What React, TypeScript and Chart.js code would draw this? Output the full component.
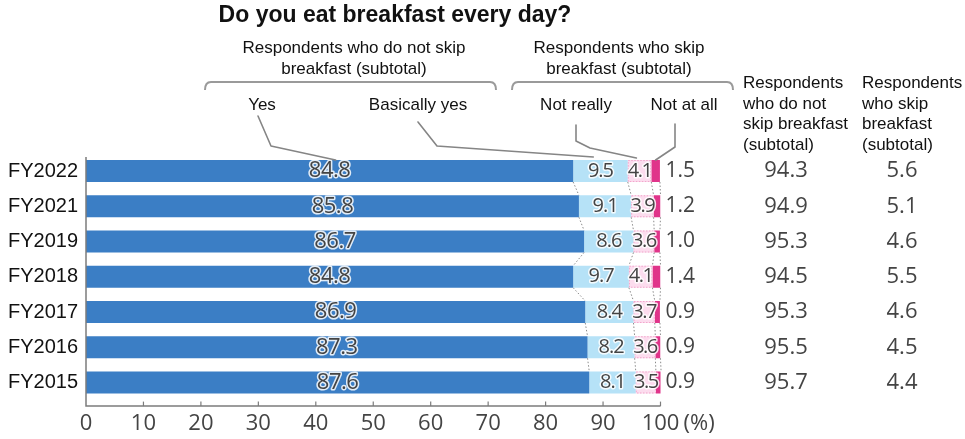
import React, { useEffect, useRef } from 'react';
import { Chart, registerables } from 'chart.js';

Chart.register(...registerables);

// ---- data ----
const years = ['FY2022', 'FY2021', 'FY2019', 'FY2018', 'FY2017', 'FY2016', 'FY2015'];
const yes = [84.8, 85.8, 86.7, 84.8, 86.9, 87.3, 87.6];
const basicallyYes = [9.5, 9.1, 8.6, 9.7, 8.4, 8.2, 8.1];
const notReally = [4.1, 3.9, 3.6, 4.1, 3.7, 3.6, 3.5];
const notAtAll = [1.5, 1.2, 1.0, 1.4, 0.9, 0.9, 0.9];
const notSkipSubtotal = [94.3, 94.9, 95.3, 94.5, 95.3, 95.5, 95.7];
const skipSubtotal = [5.6, 5.1, 4.6, 5.5, 4.6, 4.5, 4.4];
const seriesNames = ['Yes', 'Basically yes', 'Not really', 'Not at all'];

const W = 965;
const H = 439;
const NUM_FONT = '"Open Sans", "Noto Sans", sans-serif';
const TXT_FONT = 'Arial, "Liberation Sans", sans-serif';
const NUM_COLOR = '#444444';

function haloText(ctx: CanvasRenderingContext2D, text: string, x: number, y: number, font: string,
  align: CanvasTextAlign, spacing: string, halo: boolean) {
  ctx.save();
  ctx.font = font;
  ctx.textAlign = align;
  ctx.textBaseline = 'middle';
  (ctx as any).letterSpacing = spacing;
  if (halo) {
    ctx.lineJoin = 'round';
    ctx.strokeStyle = 'rgba(255,255,255,0.85)';
    ctx.lineWidth = 3;
    ctx.strokeText(text, x, y);
  }
  ctx.fillStyle = NUM_COLOR;
  ctx.fillText(text, x, y);
  ctx.restore();
}

function plainText(ctx: CanvasRenderingContext2D, text: string, x: number, y: number, font: string,
  align: CanvasTextAlign, color = '#111') {
  ctx.save();
  ctx.font = font;
  ctx.textAlign = align;
  ctx.textBaseline = 'alphabetic';
  ctx.fillStyle = color;
  ctx.fillText(text, x, y);
  ctx.restore();
}

function polyline(ctx: CanvasRenderingContext2D, pts: number[][], color: string, width: number) {
  ctx.save();
  ctx.strokeStyle = color;
  ctx.lineWidth = width;
  ctx.lineJoin = 'round';
  ctx.lineCap = 'round';
  ctx.beginPath();
  pts.forEach((p, i) => (i === 0 ? ctx.moveTo(p[0], p[1]) : ctx.lineTo(p[0], p[1])));
  ctx.stroke();
  ctx.restore();
}

function bracket(ctx: CanvasRenderingContext2D, x1: number, x2: number, y: number) {
  ctx.save();
  ctx.strokeStyle = '#9a9a9a';
  ctx.lineWidth = 2;
  ctx.beginPath();
  ctx.moveTo(x1, y + 8);
  ctx.quadraticCurveTo(x1, y, x1 + 6, y);
  ctx.lineTo(x2 - 6, y);
  ctx.quadraticCurveTo(x2, y, x2, y + 8);
  ctx.stroke();
  ctx.restore();
}

const overlay = {
  id: 'overlay',
  afterDatasetsDraw(chart: any) {
    // dotted pink outline on the "Not really" segments
    const ctx: CanvasRenderingContext2D = chart.ctx;
    const meta = chart.getDatasetMeta(2);
    ctx.save();
    ctx.strokeStyle = '#f2a6cc';
    ctx.lineWidth = 1;
    ctx.setLineDash([1.5, 1.5]);
    meta.data.forEach((el: any) => {
      const left = Math.min(el.x, el.base);
      const w = Math.abs(el.x - el.base);
      ctx.strokeRect(left + 0.5, el.y - el.height / 2 + 0.5, w - 1, el.height - 1);
    });
    ctx.restore();
  },
  afterDraw(chart: any) {
    const ctx: CanvasRenderingContext2D = chart.ctx;
    const xs = chart.scales.x;
    const ys = chart.scales.y;
    const px = (v: number) => xs.getPixelForValue(v);
    const cy = (i: number) => ys.getPixelForValue(i);
    const meta0 = chart.getDatasetMeta(0);
    const half = (meta0.data[0] as any).height / 2;
    const cum1 = yes.map((v) => v);
    const cum2 = yes.map((v, i) => v + basicallyYes[i]);
    const cum3 = yes.map((v, i) => v + basicallyYes[i] + notReally[i]);
    const cum4 = yes.map((v, i) => v + basicallyYes[i] + notReally[i] + notAtAll[i]);

    // dotted series connectors
    ctx.save();
    ctx.strokeStyle = '#8a8a8a';
    ctx.lineWidth = 1;
    ctx.setLineDash([1.5, 2]);
    for (let i = 0; i < years.length - 1; i++) {
      [cum1, cum2, cum3, cum4].forEach((c) => {
        ctx.beginPath();
        ctx.moveTo(px(c[i]), cy(i) + half);
        ctx.lineTo(px(c[i + 1]), cy(i + 1) - half);
        ctx.stroke();
      });
    }
    ctx.restore();

    // value labels
    years.forEach((_, i) => {
      const y = cy(i);
      haloText(ctx, yes[i].toFixed(1), px(yes[i] / 2), y, `22px ${NUM_FONT}`, 'center', '-0.5px', true);
      haloText(ctx, basicallyYes[i].toFixed(1), px(cum1[i] + basicallyYes[i] / 2), y, `20px ${NUM_FONT}`, 'center', '-1px', true);
      haloText(ctx, notReally[i].toFixed(1), px(cum2[i] + notReally[i] / 2), y, `20px ${NUM_FONT}`, 'center', '-1.5px', true);
      haloText(ctx, notAtAll[i].toFixed(1), px(100) + 5, y, `21px ${NUM_FONT}`, 'left', '0px', false);
      haloText(ctx, notSkipSubtotal[i].toFixed(1), 786, y, `22px ${NUM_FONT}`, 'center', '0px', false);
      haloText(ctx, skipSubtotal[i].toFixed(1), 902, y, `22px ${NUM_FONT}`, 'center', '0px', false);
    });

    // axes
    const axisY = xs.top + 6;
    ctx.save();
    ctx.strokeStyle = '#7c7c7c';
    ctx.lineWidth = 1.5;
    ctx.beginPath();
    ctx.moveTo(px(0), cy(0) - half - 3);
    ctx.lineTo(px(0), axisY);
    ctx.lineTo(px(100), axisY);
    ctx.stroke();
    ctx.lineWidth = 1.2;
    xs.ticks.forEach((t: any) => {
      if (t.value === 0) return;
      ctx.beginPath();
      ctx.moveTo(px(t.value), axisY);
      ctx.lineTo(px(t.value), axisY - 4.5);
      ctx.stroke();
    });
    ctx.restore();
    ctx.save();
    ctx.font = `22px ${NUM_FONT}`;
    ctx.fillStyle = NUM_COLOR;
    ctx.textAlign = 'left';
    ctx.textBaseline = 'middle';
    ctx.fillText('(%)', px(100) + 23, xs.top + 10 + 13.2);
    ctx.restore();

    // title
    plainText(ctx, 'Do you eat breakfast every day?', 395, 22, `bold 23px ${TXT_FONT}`, 'center');

    // group headers
    const hf = `17px ${TXT_FONT}`;
    plainText(ctx, 'Respondents who do not skip', 354, 53, hf, 'center');
    plainText(ctx, 'breakfast (subtotal)', 354, 73.5, hf, 'center');
    plainText(ctx, 'Respondents who skip', 619, 53, hf, 'center');
    plainText(ctx, 'breakfast (subtotal)', 619, 73.5, hf, 'center');
    bracket(ctx, 205, 496, 82);
    bracket(ctx, 512, 733, 82);

    // series names
    plainText(ctx, seriesNames[0], 262, 110, hf, 'center');
    plainText(ctx, seriesNames[1], 418, 110, hf, 'center');
    plainText(ctx, seriesNames[2], 576, 110, hf, 'center');
    plainText(ctx, seriesNames[3], 684, 110, hf, 'center');

    // leader lines
    const top0 = cy(0) - half;
    const lc = '#858585';
    polyline(ctx, [[258, 116], [271, 146], [px(yes[0] / 2) + 6, top0]], lc, 1.6);
    polyline(ctx, [[418, 122], [437, 146], [px(cum1[0] + 3.5), top0 - 3]], lc, 1.6);
    polyline(ctx, [[576, 125], [576, 141], [590, 148], [px(cum2[0] + 1.5), top0 - 2]], lc, 1.6);
    polyline(ctx, [[675, 124], [675, 147], [px(cum3[0] + notAtAll[0] / 2), top0]], lc, 1.6);

    // right column headers
    const colLines1 = ['Respondents', 'who do not', 'skip breakfast', '(subtotal)'];
    const colLines2 = ['Respondents', 'who skip', 'breakfast', '(subtotal)'];
    const bl = [88, 108.5, 129, 149.5];
    colLines1.forEach((t, k) => plainText(ctx, t, 743, bl[k], hf, 'left'));
    colLines2.forEach((t, k) => plainText(ctx, t, 862, bl[k], hf, 'left'));
  },
};

export default function App() {
  const ref = useRef<HTMLCanvasElement>(null);
  useEffect(() => {
    const canvas = ref.current;
    if (!canvas) return;
    const chart = new Chart(canvas, {
      type: 'bar',
      data: {
        labels: years,
        datasets: [
          { label: seriesNames[0], data: yes, backgroundColor: '#3b7ec5' },
          { label: seriesNames[1], data: basicallyYes, backgroundColor: '#b6e2f7' },
          { label: seriesNames[2], data: notReally, backgroundColor: '#fcdcee' },
          { label: seriesNames[3], data: notAtAll, backgroundColor: '#e0348a' },
        ],
      },
      options: {
        indexAxis: 'y',
        responsive: false,
        animation: false,
        devicePixelRatio: 1,
        datasets: { bar: { barPercentage: 0.624, categoryPercentage: 1 } },
        layout: { padding: { top: 153.4, right: 304.5, left: 0, bottom: 0 } },
        plugins: {
          legend: { display: false },
          tooltip: { enabled: false },
          title: { display: false },
        },
        scales: {
          x: {
            stacked: true,
            min: 0,
            max: 100,
            ticks: {
              stepSize: 10,
              autoSkip: false,
              maxRotation: 0,
              padding: 10,
              color: NUM_COLOR,
              font: { family: NUM_FONT, size: 22 },
            },
            grid: { display: false, drawTicks: false },
            border: { display: false },
            afterFit: (s: any) => { s.height = 38.9; },
          },
          y: {
            stacked: true,
            ticks: {
              padding: 8,
              color: '#111',
              font: { family: TXT_FONT, size: 20 },
            },
            grid: { display: false, drawTicks: false },
            border: { display: false },
            afterFit: (s: any) => { s.width = 86; },
          },
        },
      } as any,
      plugins: [overlay],
    });
    return () => chart.destroy();
  }, []);
  return (
    <div style={{ position: 'fixed', left: 0, top: 0, width: W, height: H, background: '#fff' }}>
      <canvas ref={ref} width={W} height={H} style={{ display: 'block', width: W, height: H }} />
    </div>
  );
}
